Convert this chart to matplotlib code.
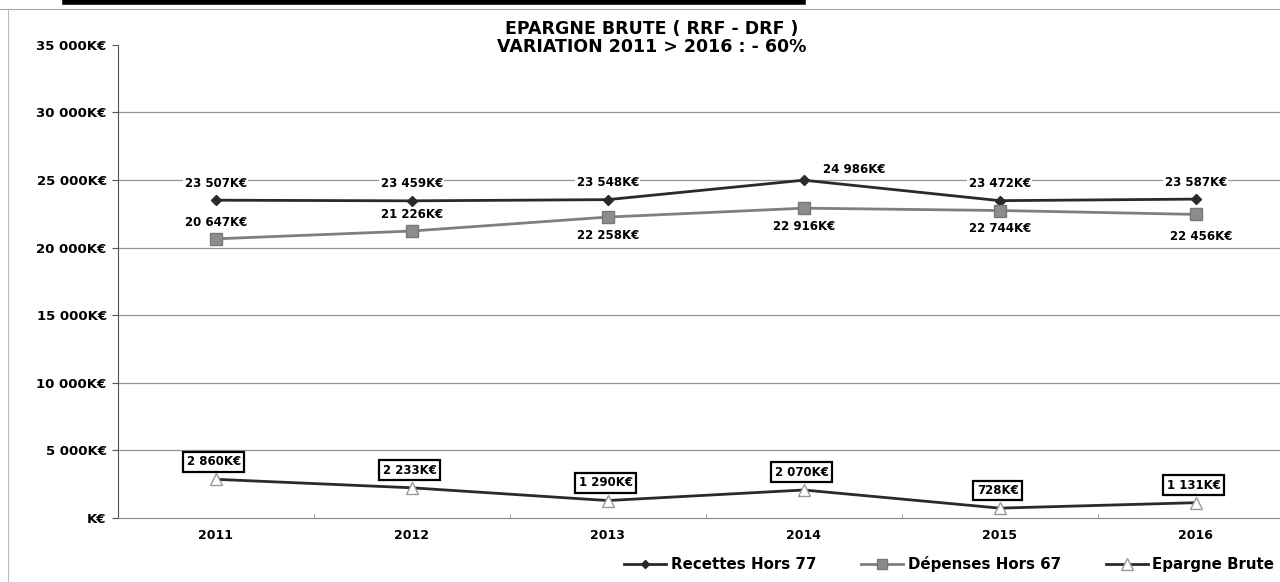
import matplotlib.pyplot as plt
from matplotlib.ticker import FuncFormatter, MultipleLocator, FixedLocator
from matplotlib.lines import Line2D

annees = ['2011', '2012', '2013', '2014', '2015', '2016']
recettes = [23507, 23459, 23548, 24986, 23472, 23587]
depenses = [20647, 21226, 22258, 22916, 22744, 22456]
epargne = [2860, 2233, 1290, 2070, 728, 1131]

# position des étiquettes des dépenses : au-dessus (1) ou en dessous (-1)
pos_dep = [1, 1, -1, -1, -1, -1]

plt.rcParams['font.family'] = ['DejaVu Sans']
plt.rcParams['font.weight'] = 'bold'


def fmt_ke(v):
    v = int(round(v))
    if v == 0:
        return 'K€'
    return f"{v:,}".replace(',', ' ') + 'K€'


fig = plt.figure(figsize=(12.8, 5.82), dpi=100)
ax = fig.add_axes([0.092, 0.11, 0.908, 0.813])

x = list(range(len(annees)))
ax.plot(x, recettes, color='#2a2a2a', lw=2, marker='D', ms=5, mfc='#2a2a2a', mec='#2a2a2a', zorder=3)
ax.plot(x, depenses, color='#7f7f7f', lw=2, marker='s', ms=8.5, mfc='#8c8c8c', mec='#777777', zorder=3)
ax.plot(x, epargne, color='#2a2a2a', lw=2, marker='^', ms=9, mfc='white', mec='#999999', zorder=3)

for i, v in enumerate(recettes):
    dx, dy = (0.26, 800) if i == 3 else (0, 1250)
    ax.text(i + dx, v + dy, fmt_ke(v), ha='center', va='center', fontsize=8.5, fontweight='bold',
            bbox=dict(facecolor='white', edgecolor='none', pad=1), zorder=4)

for i, v in enumerate(depenses):
    if pos_dep[i] > 0:
        ax.text(i, v + 1200, fmt_ke(v), ha='center', va='center', fontsize=8.5, fontweight='bold', zorder=4)
    else:
        ax.text(i + (0.03 if i == 5 else 0), v - 1350 - (250 if i == 5 else 0), fmt_ke(v), ha='center',
                va='center', fontsize=8.5, fontweight='bold', zorder=4)

for i, v in enumerate(epargne):
    ax.text(i - 0.01, v + 1300, fmt_ke(v), ha='center', va='center', fontsize=8.5, fontweight='bold',
            bbox=dict(facecolor='white', edgecolor='black', lw=1.6, pad=2.5), zorder=4)

ax.set_xlim(-0.5, 5.43)
ax.set_ylim(0, 35000)
ax.yaxis.set_major_locator(MultipleLocator(5000))
ax.yaxis.set_major_formatter(FuncFormatter(lambda v, p: fmt_ke(v)))
ax.xaxis.set_major_locator(FixedLocator(x))
ax.set_xticklabels(annees)
ax.xaxis.set_minor_locator(FixedLocator([i + 0.5 for i in x]))
ax.tick_params(axis='x', which='major', length=0, pad=8, labelsize=9)
ax.tick_params(axis='x', which='minor', length=3, direction='in', color='#888888')
ax.tick_params(axis='y', length=4, color='#555555', labelsize=9.5, pad=4)
for g in range(5000, 35000, 5000):
    ax.axhline(g, color='#959595', lw=0.9, zorder=1)
for s in ['top', 'right']:
    ax.spines[s].set_visible(False)
ax.spines['left'].set_color('#555555')
ax.spines['bottom'].set_color('#888888')
for lab in ax.get_xticklabels() + ax.get_yticklabels():
    lab.set_fontweight('bold')

fig.text(0.509, 1 - 38 / 582, 'EPARGNE BRUTE ( RRF - DRF )\nVARIATION 2011 > 2016 : - 60%',
         ha='center', va='center', fontsize=12.5, fontweight='bold', linespacing=1.02)

handles = [
    Line2D([], [], color='#2a2a2a', lw=2, marker='D', ms=4, mfc='#2a2a2a'),
    Line2D([], [], color='#7f7f7f', lw=2, marker='s', ms=7, mfc='#8c8c8c', mec='#777777'),
    Line2D([], [], color='#2a2a2a', lw=2, marker='^', ms=8, mfc='white', mec='#999999'),
]
fig.legend(handles, ['Recettes Hors 77', 'Dépenses Hors 67', 'Epargne Brute'], loc='center right',
           bbox_to_anchor=(1.006, 1 - 564 / 582), ncol=3, frameon=False, handlelength=2.8,
           handletextpad=0.3, columnspacing=3.0, prop={'weight': 'bold', 'size': 10.8})

# traces du scan
fig.add_artist(Line2D([65 / 1280, 803 / 1280], [0.997, 0.997], color='black', lw=4))
fig.add_artist(Line2D([0, 1], [1 - 9 / 582, 1 - 9 / 582], color='#aaaaaa', lw=0.8))
fig.add_artist(Line2D([8 / 1280, 8 / 1280], [0, 1 - 9 / 582], color='#bbbbbb', lw=0.8))

fig.savefig('out.png', dpi=100)
